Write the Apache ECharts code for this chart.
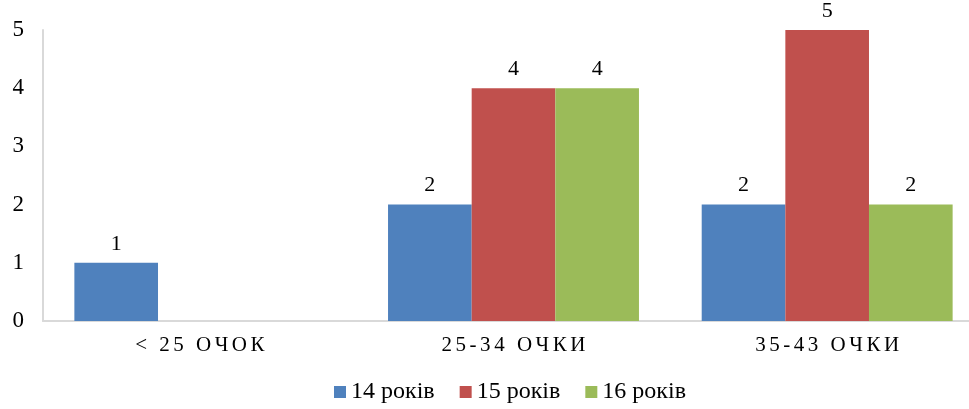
<!DOCTYPE html>
<html>
<head>
<meta charset="utf-8">
<script src="https://cdn.jsdelivr.net/npm/echarts@6/dist/echarts.min.js"></script>
<style>
  html, body { margin: 0; padding: 0; background: #ffffff; }
  #chart { width: 969px; height: 409px; }
</style>
</head>
<body>
<div id="chart"></div>
<script>
const categories = ['< 25 ОЧОК', '25-34 ОЧКИ', '35-43 ОЧКИ'];
const seriesNames = ['14 років', '15 років', '16 років'];
const age14 = [1, 2, 2];
const age15 = [0, 4, 5];
const age16 = [0, 4, 2];
const colors = ['#4F81BD', '#C0504D', '#9BBB59'];

const font = "'Liberation Serif', 'Times New Roman', serif";

const chart = echarts.init(document.getElementById('chart'));

const makeSeries = (name, data, color) => ({
  name: name,
  type: 'bar',
  data: data,
  barGap: 0,
  barCategoryGap: '20%',
  itemStyle: { color: color },
  label: {
    show: true,
    position: 'top',
    distance: 8,
    color: '#000000',
    fontFamily: font,
    fontSize: 22,
    formatter: (p) => (p.value === 0 ? '' : p.value) // no label for empty bars
  }
});

chart.setOption({
  backgroundColor: '#ffffff',
  animation: false,
  color: colors,
  grid: {
    left: 43,
    top: 30,
    width: 941,
    height: 291,
    outerBoundsMode: 'none' // plot runs past the right edge, like the original
  },
  legend: {
    data: seriesNames,
    bottom: 5,
    left: 334,
    padding: 0,
    itemWidth: 12,
    itemHeight: 12,
    itemGap: 25,
    icon: 'rect',
    textStyle: { fontFamily: font, fontSize: 24, color: '#000000' }
  },
  xAxis: {
    type: 'category',
    data: categories,
    axisLine: { lineStyle: { color: '#d9d9d9', width: 2 } },
    axisTick: { show: false },
    axisLabel: {
      color: '#000000',
      fontFamily: font,
      fontSize: 21,
      margin: 14,
      formatter: (v) => v.split('').join('\u200A\u200A') // spaced-out letters
    }
  },
  yAxis: {
    type: 'value',
    min: 0,
    max: 5,
    interval: 1,
    axisLine: { show: true, lineStyle: { color: '#d9d9d9', width: 2 } },
    axisTick: { show: false },
    splitLine: { show: false },
    axisLabel: {
      color: '#000000',
      fontFamily: font,
      fontSize: 23,
      margin: 19
    }
  },
  series: [
    makeSeries(seriesNames[0], age14, colors[0]),
    makeSeries(seriesNames[1], age15, colors[1]),
    makeSeries(seriesNames[2], age16, colors[2])
  ]
});
</script>
</body>
</html>
